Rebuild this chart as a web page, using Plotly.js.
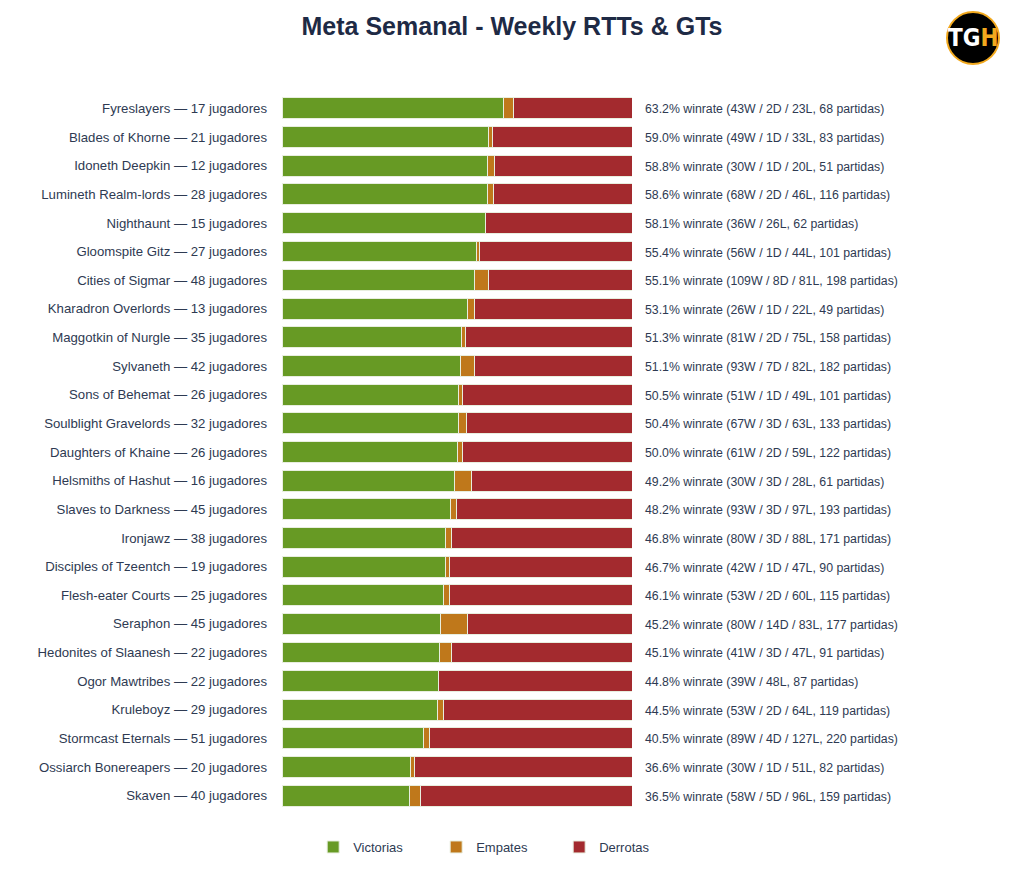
<!DOCTYPE html>
<html>
<head>
<meta charset="utf-8">
<script src="https://cdn.plot.ly/plotly-3.0.1.min.js"></script>
<style>html,body{margin:0;padding:0;background:#fff;}#chart{width:1024px;height:886px;}</style>
</head>
<body>
<div id="chart"></div>
<script>
const factions = ["Fyreslayers","Blades of Khorne","Idoneth Deepkin","Lumineth Realm-lords","Nighthaunt","Gloomspite Gitz","Cities of Sigmar","Kharadron Overlords","Maggotkin of Nurgle","Sylvaneth","Sons of Behemat","Soulblight Gravelords","Daughters of Khaine","Helsmiths of Hashut","Slaves to Darkness","Ironjawz","Disciples of Tzeentch","Flesh-eater Courts","Seraphon","Hedonites of Slaanesh","Ogor Mawtribes","Kruleboyz","Stormcast Eternals","Ossiarch Bonereapers","Skaven"];
const players = [17,21,12,28,15,27,48,13,35,42,26,32,26,16,45,38,19,25,45,22,22,29,51,20,40];
const wins   = [43,49,30,68,36,56,109,26,81,93,51,67,61,30,93,80,42,53,80,41,39,53,89,30,58];
const draws  = [2,1,1,2,0,1,8,1,2,7,1,3,2,3,3,3,1,2,14,3,0,2,4,1,5];
const losses = [23,33,20,46,26,44,81,22,75,82,49,63,59,28,97,88,47,60,83,47,48,64,127,51,96];
const seriesNames = ["Victorias","Empates","Derrotas"];
const seriesColors = ["#679a24","#bf781b","#a32a2e"];

const totals = factions.map((f,i)=>wins[i]+draws[i]+losses[i]);
const labels = factions.map((f,i)=>f+" \u2014 "+players[i]+" jugadores");
const frac = arr => arr.map((v,i)=>v/totals[i]);
const textColor = "#2e3a52";

const traces = [wins,draws,losses].map((arr,k)=>({
  type:"bar", orientation:"h",
  x: frac(arr), y: labels,
  name: seriesNames[k],
  marker:{color:seriesColors[k], line:{color:"#e8eedf", width:1}},
  hoverinfo:"skip"
}));

const annotations = labels.map((l,i)=>{
  const wr = (100*wins[i]/totals[i]).toFixed(1);
  const d = draws[i] > 0 ? " / "+draws[i]+"D" : "";
  return {
    xref:"x", yref:"y", x:1, y:l, xanchor:"left", xshift:11, yshift:-1,
    showarrow:false, align:"left",
    text: wr+"% winrate ("+wins[i]+"W"+d+" / "+losses[i]+"L, "+totals[i]+" partidas)",
    font:{family:"Liberation Sans, Arial, sans-serif", size:12.3, color:textColor}
  };
});
const logoX = (973-282)/742, logoY = (810-38)/716;
annotations.push({
  xref:"paper", yref:"paper", x:logoX, y:logoY, xanchor:"center", yanchor:"middle",
  showarrow:false,
  text:"<b>TG<span style='color:#f2a91e'>H</span></b>",
  font:{family:"DejaVu Sans Condensed, Liberation Sans Narrow, sans-serif", size:24, color:"#ffffff"}
});

const layout = {
  width:1024, height:886,
  paper_bgcolor:"#ffffff", plot_bgcolor:"#ffffff",
  margin:{l:282, r:0, t:94, b:76},
  barmode:"stack", bargap:0.27,
  font:{family:"Liberation Sans, Arial, sans-serif", size:13, color:textColor},
  title:{text:"<b>Meta Semanal - Weekly RTTs & GTs</b>", x:0.5, xref:"container", xanchor:"center", y:0.97, yanchor:"middle",
         font:{family:"Liberation Sans, Arial, sans-serif", size:25, color:"#1e2a45"}},
  xaxis:{range:[0,1], domain:[0, 350/742], showgrid:false, zeroline:false, showticklabels:false, ticks:"", fixedrange:true},
  yaxis:{autorange:"reversed", showgrid:false, zeroline:false, ticks:"", ticklabelstandoff:14,
         tickfont:{size:13.2, color:textColor}},
  legend:{orientation:"h", xref:"container", yref:"container", x:0.486, xanchor:"center", y:0.044, yanchor:"middle",
          traceorder:"normal", font:{size:13, color:textColor}, entrywidth:78, itemwidth:30},
  shapes:[{
    type:"circle", xref:"paper", yref:"paper", xsizemode:"pixel", ysizemode:"pixel",
    xanchor:logoX, yanchor:logoY, x0:-26, x1:26, y0:-26, y1:26,
    fillcolor:"#000000", line:{color:"#f2a91e", width:2}
  }],
  annotations:annotations,
  showlegend:true
};

Plotly.newPlot("chart", traces, layout, {displayModeBar:false, staticPlot:true});
</script>
</body>
</html>
